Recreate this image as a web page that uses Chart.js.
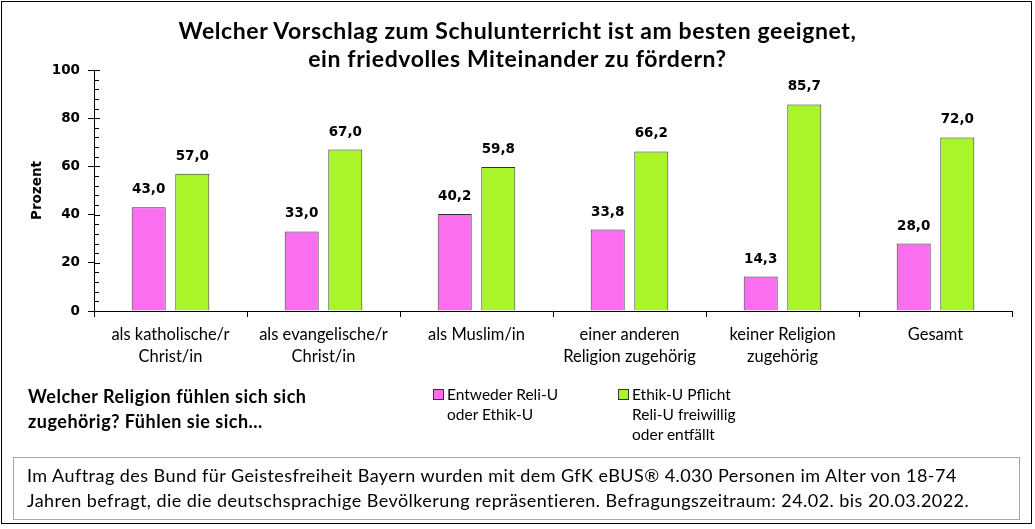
<!DOCTYPE html>
<html>
<head>
<meta charset="utf-8">
<script src="https://cdn.jsdelivr.net/npm/chart.js@4"></script>
<style>
  body { margin: 0; background: #fff; }
  #wrap { position: relative; width: 1035px; height: 529px; font-family: Lato, sans-serif; color: #000; }
  #frame { position: absolute; left: 1px; top: 1px; width: 1029px; height: 521px; border: 1px solid #000; }
  #chart { position: absolute; left: 0; top: 0; }
  .t { position: absolute; white-space: nowrap; }
  #title { left: 0; width: 1035px; top: 16px; text-align: center; font-weight: bold; font-size: 23px; letter-spacing: 0.6px; line-height: 28px; }
  #question { left: 28px; top: 384px; font-weight: bold; font-size: 18px; letter-spacing: 0.5px; line-height: 25px; }
  .leg { position: absolute; font-size: 15.5px; line-height: 20px; }
  .leg i { position: absolute; left: -14px; top: 5px; width: 9px; height: 9px; border: 1px solid #333; }
  #foot { position: absolute; left: 13px; top: 457px; width: 1005px; height: 61px; border: 1px solid #a6a6a6; }
  #foot div { position: absolute; left: 13px; font-size: 18px; letter-spacing: 0.45px; line-height: 25px; top: 5px; white-space: nowrap; }
</style>
</head>
<body>
<div id="wrap">
  <canvas id="chart" width="1035" height="529"></canvas>
  <div id="frame"></div>
  <div class="t" id="title">Welcher Vorschlag zum Schulunterricht ist am besten geeignet,<br>ein friedvolles Miteinander zu fördern?</div>
  <div class="t" id="question">Welcher Religion fühlen sich sich<br>zugehörig? Fühlen sie sich...</div>
  <div class="leg" id="leg1" style="left:447px; top:384px;"></div>
  <div class="leg" id="leg2" style="left:632px; top:384px;"></div>
  <div id="foot"><div>Im Auftrag des Bund für Geistesfreiheit Bayern wurden mit dem GfK eBUS® 4.030 Personen im Alter von 18-74<br>Jahren befragt, die die deutschsprachige Bevölkerung repräsentieren. Befragungszeitraum: 24.02. bis 20.03.2022.</div></div>
</div>
<script>
const categories = [
  ['als katholische/r', 'Christ/in'],
  ['als evangelische/r', 'Christ/in'],
  'als Muslim/in',
  ['einer anderen', 'Religion zugehörig'],
  ['keiner Religion', 'zugehörig'],
  'Gesamt'
];
const seriesNames = [['Entweder Reli-U', 'oder Ethik-U'], ['Ethik-U Pflicht', 'Reli-U freiwillig', 'oder entfällt']];
const reliOderEthik = [43.0, 33.0, 40.2, 33.8, 14.3, 28.0];
const ethikPflicht = [57.0, 67.0, 59.8, 66.2, 85.7, 72.0];
const yTicks = [0, 20, 40, 60, 80, 100];
const colors = ['#fb6ef0', '#aaf52a'];

// legend (html)
['leg1', 'leg2'].forEach((id, i) => {
  const el = document.getElementById(id);
  el.innerHTML = '<i style="background:' + colors[i] + '"></i>' + seriesNames[i].join('<br>');
});

// value labels above bars
const valueLabels = {
  id: 'valueLabels',
  afterDatasetsDraw(chart) {
    const ctx = chart.ctx;
    ctx.save();
    ctx.font = 'bold 13.5px "DejaVu Sans"';
    ctx.fillStyle = '#000';
    ctx.textAlign = 'center';
    ctx.textBaseline = 'alphabetic';
    chart.data.datasets.forEach((ds, i) => {
      chart.getDatasetMeta(i).data.forEach((bar, j) => {
        ctx.fillText(ds.data[j].toFixed(1).replace('.', ','), bar.x, bar.y - 14);
      });
    });
    ctx.restore();
  }
};

// small ticks on the inside of the y axis
const minorTicks = {
  id: 'minorTicks',
  afterDraw(chart) {
    const y = chart.scales.y;
    const ctx = chart.ctx;
    ctx.save();
    ctx.strokeStyle = '#000';
    ctx.lineWidth = 1;
    for (let v = 0; v <= 100; v += 4) {
      const py = Math.round(y.getPixelForValue(v)) + 0.5;
      const len = yTicks.includes(v) ? 6 : 5;
      ctx.beginPath();
      ctx.moveTo(y.right, py);
      ctx.lineTo(y.right + len, py);
      ctx.stroke();
    }
    ctx.restore();
  }
};

new Chart(document.getElementById('chart'), {
  type: 'bar',
  data: {
    labels: categories,
    datasets: [
      { label: seriesNames[0].join(' '), data: reliOderEthik, backgroundColor: colors[0], borderColor: '#333', borderWidth: 1 },
      { label: seriesNames[1].join(' '), data: ethikPflicht, backgroundColor: colors[1], borderColor: '#333', borderWidth: 1 }
    ]
  },
  options: {
    responsive: false,
    animation: false,
    categoryPercentage: 0.57,
    barPercentage: 0.78,
    layout: { padding: { left: 0, right: 23, top: 70, bottom: 0 } },
    plugins: { legend: { display: false }, tooltip: { enabled: false } },
    scales: {
      x: {
        grid: { drawOnChartArea: false, tickLength: 6, color: '#000' },
        border: { color: '#000' },
        ticks: { color: '#000', font: { family: 'Lato', size: 16.5, lineHeight: 1.36 }, padding: 6, maxRotation: 0 },
        afterFit: s => { s.height = 218; }
      },
      y: {
        min: 0,
        max: 100,
        afterBuildTicks: s => { s.ticks = yTicks.map(v => ({ value: v })); },
        grid: { drawOnChartArea: false, tickLength: 6, color: '#000' },
        border: { color: '#000' },
        ticks: { color: '#000', font: { family: 'DejaVu Sans', size: 13.5, weight: 'bold' }, padding: 8 },
        title: { display: true, text: 'Prozent', color: '#000', font: { family: 'DejaVu Sans', size: 13.5, weight: 'bold' }, padding: { top: 29, bottom: 0 } },
        afterFit: s => { s.width = 94; }
      }
    }
  },
  plugins: [valueLabels, minorTicks]
});
</script>
</body>
</html>
